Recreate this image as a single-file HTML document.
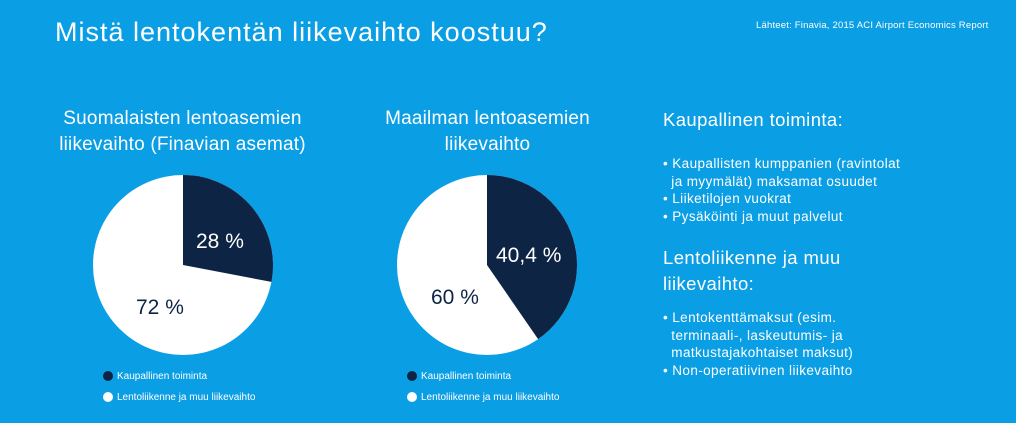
<!DOCTYPE html>
<html><head><meta charset="utf-8"><style>
body{margin:0;width:1016px;height:423px;background:#0a9ee5;overflow:hidden;font-family:"Liberation Sans","DejaVu Sans",sans-serif;color:#fff;position:relative}
.a{position:absolute;white-space:nowrap}
</style></head><body>
<div class="a" style="left:55px;top:17px;font-size:27px;letter-spacing:1px">Mistä lentokentän liikevaihto koostuu?</div>
<div class="a" style="left:756px;top:20px;font-size:9.5px;letter-spacing:0.2px">Lähteet: Finavia, 2015 ACI Airport Economics Report</div>
<div class="a" style="left:40px;top:106px;width:285px;text-align:center;font-size:19px;line-height:26px;white-space:normal;letter-spacing:0.2px">Suomalaisten lentoasemien liikevaihto (Finavian asemat)</div>
<div class="a" style="left:360px;top:106px;width:255px;text-align:center;font-size:19px;line-height:26px;white-space:normal;letter-spacing:0.2px">Maailman lentoasemien<br>liikevaihto</div>
<div class="a" style="left:663px;top:109px;font-size:18.5px;letter-spacing:0.4px">Kaupallinen toiminta:</div>
<div class="a" style="left:663px;top:155px;font-size:13.5px;line-height:17.5px;letter-spacing:0.4px">• Kaupallisten kumppanien (ravintolat<br>&nbsp;&nbsp;ja myymälät) maksamat osuudet<br>• Liiketilojen vuokrat<br>• Pysäköinti ja muut palvelut</div>
<div class="a" style="left:663px;top:245px;font-size:18.5px;line-height:26px;letter-spacing:0.4px">Lentoliikenne ja muu<br>liikevaihto:</div>
<div class="a" style="left:663px;top:309px;font-size:13.5px;line-height:17.5px;letter-spacing:0.4px">• Lentokenttämaksut (esim.<br>&nbsp;&nbsp;terminaali-, laskeutumis- ja<br>&nbsp;&nbsp;matkustajakohtaiset maksut)<br>• Non-operatiivinen liikevaihto</div>
<svg class="a" style="left:0;top:0" width="1016" height="423">
<circle cx="183" cy="265" r="90" fill="#fff"/>
<path d="M183,265 L183,175 A90,90 0 0 1 271.4,281.9 Z" fill="#0d2444"/>
<circle cx="487" cy="265" r="90" fill="#fff"/>
<path d="M487,265 L487,175 A90,90 0 0 1 538.1,339.1 Z" fill="#0d2444"/>
<g font-family="Liberation Sans,sans-serif" font-size="21">
<text x="196" y="248" fill="#fff">28 %</text>
<text x="136" y="314" fill="#0d2444">72 %</text>
<text x="496" y="262" fill="#fff">40,4 %</text>
<text x="431" y="304" fill="#0d2444">60 %</text>
</g>
<circle cx="108" cy="376" r="5" fill="#0d2444"/><circle cx="108" cy="397" r="5" fill="#fff"/>
<circle cx="412" cy="376" r="5" fill="#0d2444"/><circle cx="412" cy="397" r="5" fill="#fff"/>
<g font-family="Liberation Sans,sans-serif" font-size="10" fill="#fff">
<text x="117" y="379">Kaupallinen toiminta</text>
<text x="117" y="400">Lentoliikenne ja muu liikevaihto</text>
<text x="421" y="379">Kaupallinen toiminta</text>
<text x="421" y="400">Lentoliikenne ja muu liikevaihto</text>
</g>
</svg>
</body></html>
